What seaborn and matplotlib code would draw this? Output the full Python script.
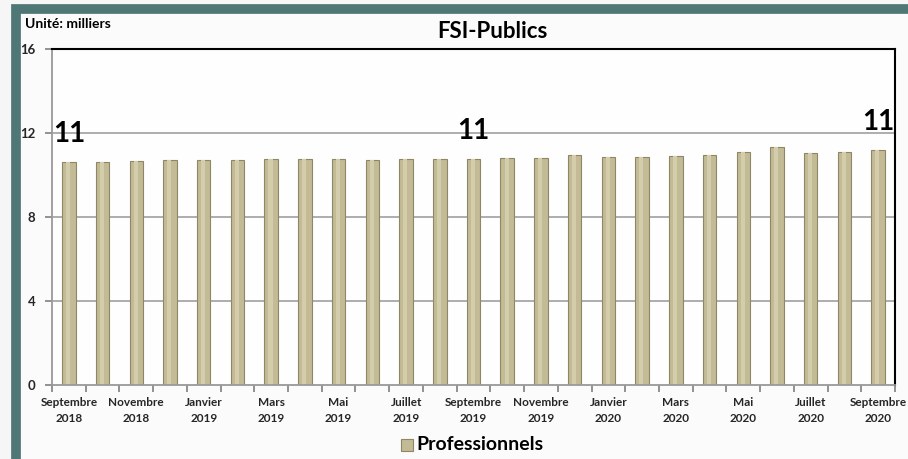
import numpy as np
import pandas as pd
import seaborn as sns
import matplotlib.pyplot as plt
from matplotlib.patches import Rectangle

months = ["Septembre\n2018", "Octobre\n2018", "Novembre\n2018", "Décembre\n2018",
          "Janvier\n2019", "Février\n2019", "Mars\n2019", "Avril\n2019",
          "Mai\n2019", "Juin\n2019", "Juillet\n2019", "Août\n2019",
          "Septembre\n2019", "Octobre\n2019", "Novembre\n2019", "Décembre\n2019",
          "Janvier\n2020", "Février\n2020", "Mars\n2020", "Avril\n2020",
          "Mai\n2020", "Juin\n2020", "Juillet\n2020", "Août\n2020",
          "Septembre\n2020"]
professionnels = [10.60, 10.63, 10.67, 10.71, 10.71, 10.71, 10.75, 10.75, 10.76,
                  10.71, 10.75, 10.76, 10.76, 10.79, 10.79, 10.95, 10.87, 10.87,
                  10.92, 10.95, 11.11, 11.35, 11.03, 11.11, 11.19]
labelled = [0, 12, 24]
yticks = [0, 4, 8, 12, 16]

df = pd.DataFrame({"mois": months, "val": professionnels})

sns.set_theme(style="ticks")
plt.rcParams['font.family'] = ['Lato', 'DejaVu Sans']

fig = plt.figure(figsize=(9.08, 4.59), dpi=100)
fig.patch.set_facecolor('#F6F6F6')
# teal frame
frame = Rectangle((16 / 908, -0.05), 1.0, 1 - 9 / 459 + 0.05, transform=fig.transFigure,
                  facecolor='#FBFBFB', edgecolor='#4E7775', linewidth=7, zorder=-5)
fig.add_artist(frame)

ax = fig.add_axes([52 / 908, (459 - 385) / 459, (895 - 52) / 908, (385 - 49) / 459])
ax.set_facecolor('#FEFEFE')

bar_color = '#C2BB95'
sns.barplot(data=df, x="mois", y="val", color=bar_color, width=0.4, ax=ax,
            edgecolor='#8E8767', linewidth=0.8, saturation=1, legend=False)

# soft highlight down the middle of each bar (3d look)
for p in list(ax.patches):
    x0, w, h = p.get_x(), p.get_width(), p.get_height()
    ax.add_patch(Rectangle((x0 + w * 0.3, 0), w * 0.3, h, facecolor='#D3CDAC',
                           edgecolor='none', zorder=p.get_zorder() + 0.1))

for i in labelled:
    ax.text(i, professionnels[i] + 0.72, f"{professionnels[i]:.0f}", ha='center',
            va='bottom', fontsize=20, fontweight='bold', color='black')

ax.set_ylim(0, 16)
ax.set_xlim(-0.5, len(months) - 0.5)
ax.set_yticks(yticks)
ax.set_yticklabels([str(t) for t in yticks], fontsize=9.5, fontweight='bold')
ax.set_xticks(range(len(months)))
ax.set_xticklabels([m if i % 2 == 0 else '' for i, m in enumerate(months)],
                   fontsize=8.5, fontweight='bold', linespacing=1.45)
ax.tick_params(axis='x', length=0, pad=9)
ax.tick_params(axis='y', length=0, pad=12)
ax.set_xlabel('')
ax.set_ylabel('')

# tick marks on the category boundaries and at the y ticks, drawn as short lines
bounds = np.arange(-0.5, len(months), 1)
ax.vlines(bounds, 0, -0.02, transform=ax.get_xaxis_transform(), colors='#8A8A8A',
          linewidth=1.3, clip_on=False)
ax.hlines(yticks, 0, -0.008, transform=ax.get_yaxis_transform(), colors='#8A8A8A',
          linewidth=1.3, clip_on=False)

for y in [4, 8, 12]:
    ax.axhline(y, color='#A0A0A0', linewidth=1.2, zorder=0)

ax.spines['top'].set_visible(True)
ax.spines['right'].set_visible(True)
ax.spines['top'].set_color('black')
ax.spines['top'].set_linewidth(1.5)
ax.spines['right'].set_color('black')
ax.spines['right'].set_linewidth(1.5)
ax.spines['left'].set_color('#999999')
ax.spines['left'].set_linewidth(1.3)
ax.spines['bottom'].set_color('#999999')
ax.spines['bottom'].set_linewidth(1.3)

fig.text(492 / 908, 1 - 31 / 459, "FSI-Publics", ha='center', va='center',
         fontsize=16, fontweight='bold', color='black')
fig.text(25 / 908, 1 - 24 / 459, "Unité: milliers", ha='left', va='center',
         fontsize=10, fontweight='bold', color='black')

# legend
fig.add_artist(Rectangle((401 / 908, 1 - 451 / 459), 12 / 908, 12 / 459,
                         transform=fig.transFigure, facecolor=bar_color,
                         edgecolor='#8E8767', linewidth=0.8))
fig.text(416 / 908, 1 - 445 / 459, "Professionnels", ha='left', va='center',
         fontsize=14, fontweight='bold', color='black')

fig.savefig("out.png", dpi=100, facecolor=fig.get_facecolor())
